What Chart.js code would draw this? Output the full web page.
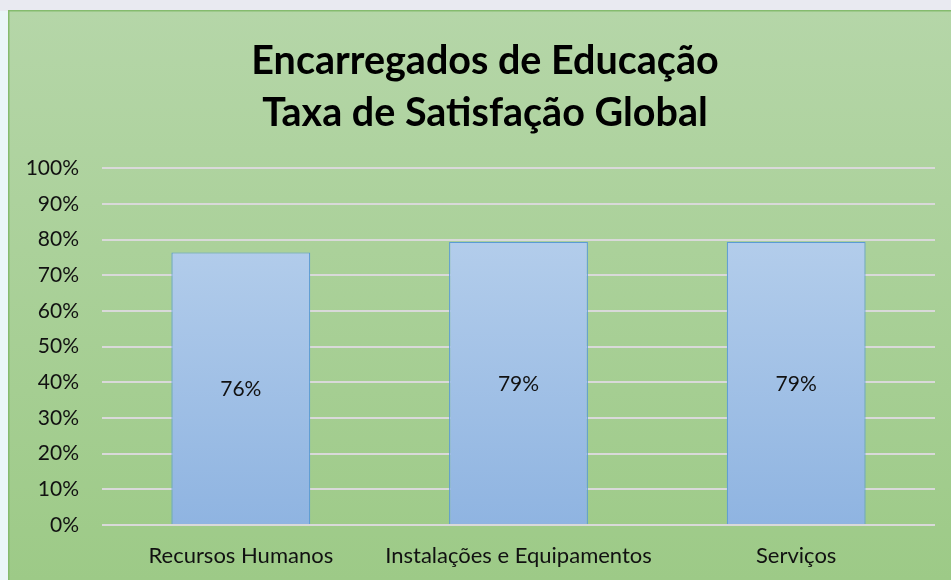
<!DOCTYPE html>
<html>
<head>
<meta charset="utf-8">
<script src="https://cdn.jsdelivr.net/npm/chart.js@4"></script>
<style>
  html, body { margin: 0; padding: 0; background: #eceef3; }
  #wrap { width: 951px; height: 580px; position: relative; }
</style>
</head>
<body>
<div id="wrap"><canvas id="myChart" width="951" height="580"></canvas></div>
<script>
// chart data
const categories = ['Recursos Humanos', 'Instalações e Equipamentos', 'Serviços'];
const satisfaction = [76.4, 79.4, 79.4];
const valueLabels = ['76%', '79%', '79%'];
const titleLines = ['Encarregados de Educação', 'Taxa de Satisfação Global'];

const FONT = 'Lato, "Open Sans", sans-serif';

// background: outer page + green chart box with gradient
const boxBackground = {
  id: 'boxBackground',
  beforeDraw(chart) {
    const c = chart.ctx;
    const w = chart.width, h = chart.height;
    c.save();
    c.fillStyle = '#eaf6f8';
    c.fillRect(0, 0, w, h);
    c.fillStyle = '#e9eaf1';
    c.fillRect(0, 0, w, 11);
    const g = c.createLinearGradient(0, 11, 0, h);
    g.addColorStop(0, '#b5d6a8');
    g.addColorStop(1, '#9dca87');
    c.fillStyle = g;
    c.fillRect(9, 11, w - 9, h - 11);
    c.strokeStyle = '#85bb6e';
    c.lineWidth = 1.5;
    c.strokeRect(8.75, 10.75, w + 10, h + 10);
    c.restore();
  },
  // the title is centred on the whole box, which runs past the right edge
  afterLayout(chart) {
    if (chart.titleBlock) {
      chart.titleBlock.left += 5;
      chart.titleBlock.right += 5;
    }
  }
};

// value labels centred in each bar
const centreLabels = {
  id: 'centreLabels',
  afterDatasetsDraw(chart) {
    const c = chart.ctx;
    const meta = chart.getDatasetMeta(0);
    c.save();
    c.font = '21px ' + FONT;
    c.fillStyle = '#111';
    c.textAlign = 'center';
    c.textBaseline = 'middle';
    meta.data.forEach(function (bar, i) {
      const y = (bar.y + bar.base) / 2 + 1;
      c.fillText(valueLabels[i], bar.x, y);
    });
    c.restore();
  }
};

const ctx = document.getElementById('myChart').getContext('2d');
const grad = ctx.createLinearGradient(0, 240, 0, 525);
grad.addColorStop(0, '#b3cdeb');
grad.addColorStop(1, '#8fb4e1');

const myChart = new Chart(ctx, {
  type: 'bar',
  data: {
    labels: categories,
    datasets: [{
      label: 'Taxa de Satisfação',
      data: satisfaction,
      backgroundColor: grad,
      borderColor: '#5b9bd5',
      borderWidth: 1.2,
      barPercentage: 0.5,
      categoryPercentage: 1.0,
    }],
  },
  options: {
    responsive: false,
    animation: false,
    layout: { padding: { left: 25, right: 16, top: 10, bottom: 0 } },
    plugins: {
      legend: { display: false },
      tooltip: { enabled: false },
      title: {
        display: true,
        text: titleLines,
        color: '#000',
        font: { family: FONT, size: 39.5, weight: 'bold', lineHeight: 1.3 },
        padding: { top: 26, bottom: 29.5 },
      },
    },
    scales: {
      x: {
        grid: { display: false, drawTicks: false },
        border: { display: false },
        ticks: { color: '#111', font: { family: FONT, size: 22 }, padding: 18, maxRotation: 0 },
        afterFit(s) { s.height = 55; },
      },
      y: {
        min: 0,
        max: 100,
        ticks: {
          stepSize: 10,
          color: '#111',
          font: { family: FONT, size: 21 },
          padding: 23,
          callback: function (v) { return v + '%'; },
        },
        grid: { color: '#d9d9d9', lineWidth: 2, drawTicks: false },
        border: { display: false },
        afterFit(s) { s.width = 77; },
      },
    },
  },
  plugins: [boxBackground, centreLabels],
});
</script>
</body>
</html>
